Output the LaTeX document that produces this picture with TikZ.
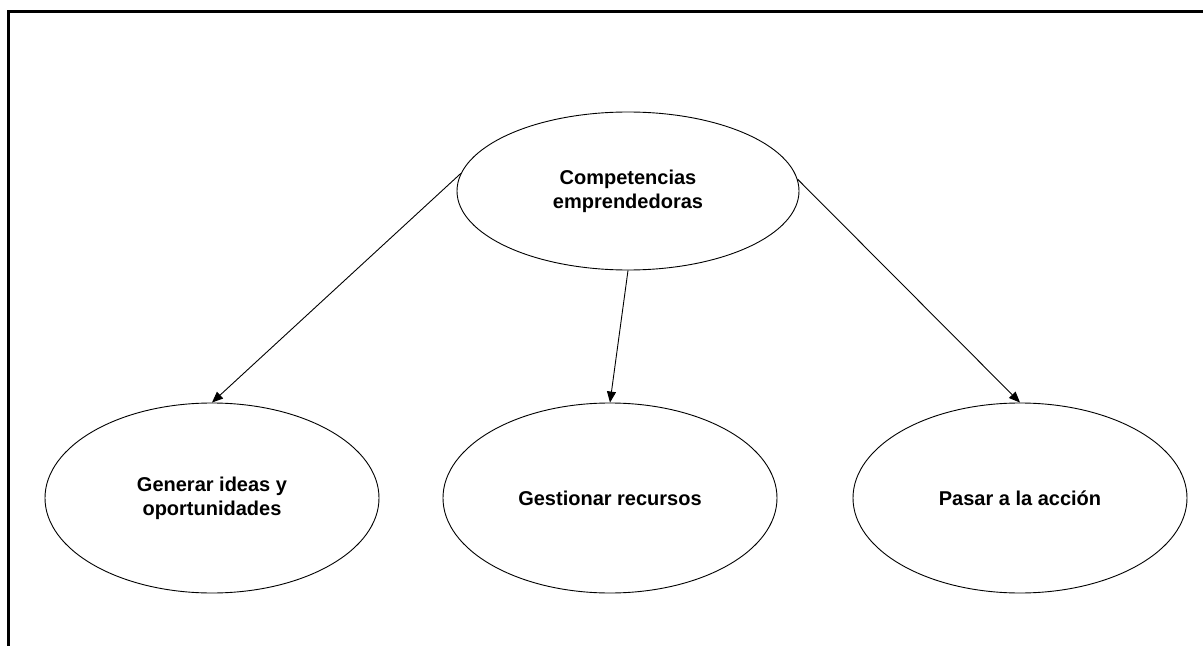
\documentclass[tikz,border=0pt]{standalone}
\usepackage{fontspec}
\setmainfont{Liberation Sans}
\usetikzlibrary{shapes.geometric,arrows.meta}
\tikzset{
  bubble/.style={ellipse, draw=black, line width=0.9bp, inner sep=0pt,
    align=center, font=\fontsize{20bp}{24bp}\selectfont\bfseries},
  link/.style={draw=black, line width=0.9bp, -{Triangle[length=11bp,width=9bp]}},
  frame/.style={draw=black, line width=3bp}
}
\begin{document}
\begin{tikzpicture}[x=1bp,y=-1bp]
  \useasboundingbox (0,0) rectangle (1203,646);
  % open frame: top and left edges only
  \coordinate (fbl) at (8.5,646);
  \coordinate (ftl) at (8.5,11.5);
  \coordinate (ftr) at (1203,11.5);
  \draw[frame] (fbl) -- (ftl) -- (ftr);

  \node[bubble, minimum width=342bp, minimum height=158bp] (root) at (628,191)
    {Competencias\\emprendedoras};
  \node[bubble, minimum width=334bp, minimum height=190bp] (ideas) at (212,498)
    {Generar ideas y\\oportunidades};
  \node[bubble, minimum width=334bp, minimum height=190bp] (rec) at (610,498)
    {Gestionar recursos};
  \node[bubble, minimum width=334bp, minimum height=190bp] (acc) at (1020,498)
    {Pasar a la acci\'on};

  \draw[link] (root.174.6) -- (ideas.north);
  \draw[link] (root.south) -- (rec.north);
  \draw[link] (root.4.8) -- (acc.north);
\end{tikzpicture}
\end{document}
